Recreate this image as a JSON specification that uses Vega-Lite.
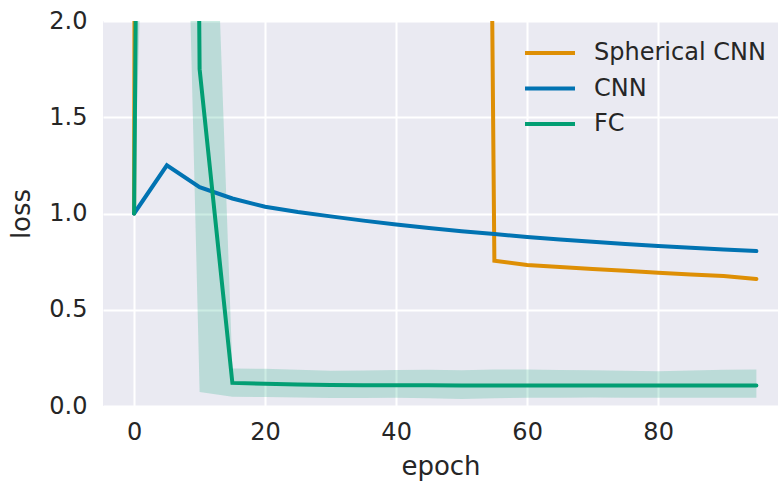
{
  "$schema": "https://vega.github.io/schema/vega-lite/v6.json",
  "width": 675,
  "height": 385,
  "autosize": {"type": "none"},
  "padding": {"left": 103, "top": 21, "right": 0, "bottom": 81},
  "background": "white",
  "config": {
    "view": {"fill": "#EAEAF2", "stroke": null},
    "axis": {
      "grid": true, "gridColor": "white", "gridWidth": 2,
      "domain": false, "ticks": false,
      "labelFont": "DejaVu Sans", "labelFontSize": 24, "labelColor": "#262626",
      "titleFont": "DejaVu Sans", "titleFontSize": 26, "titleFontWeight": "normal", "titleColor": "#262626"
    },
    "legend": {
      "labelFont": "DejaVu Sans", "labelFontSize": 24, "labelColor": "#262626", "labelLimit": 400
    }
  },
  "datasets": {
    "lines": [
      {"epoch": 0, "model": "Spherical CNN", "loss": 1.0},
      {"epoch": 5, "model": "Spherical CNN", "loss": 95},
      {"epoch": 10, "model": "Spherical CNN", "loss": 80},
      {"epoch": 15, "model": "Spherical CNN", "loss": 70},
      {"epoch": 20, "model": "Spherical CNN", "loss": 60},
      {"epoch": 25, "model": "Spherical CNN", "loss": 52},
      {"epoch": 30, "model": "Spherical CNN", "loss": 45},
      {"epoch": 35, "model": "Spherical CNN", "loss": 38},
      {"epoch": 40, "model": "Spherical CNN", "loss": 32},
      {"epoch": 45, "model": "Spherical CNN", "loss": 26},
      {"epoch": 50, "model": "Spherical CNN", "loss": 20},
      {"epoch": 55, "model": "Spherical CNN", "loss": 0.755},
      {"epoch": 60, "model": "Spherical CNN", "loss": 0.733},
      {"epoch": 65, "model": "Spherical CNN", "loss": 0.722},
      {"epoch": 70, "model": "Spherical CNN", "loss": 0.712},
      {"epoch": 75, "model": "Spherical CNN", "loss": 0.702},
      {"epoch": 80, "model": "Spherical CNN", "loss": 0.692},
      {"epoch": 85, "model": "Spherical CNN", "loss": 0.683},
      {"epoch": 90, "model": "Spherical CNN", "loss": 0.675},
      {"epoch": 95, "model": "Spherical CNN", "loss": 0.66},
      {"epoch": 0, "model": "CNN", "loss": 1.0},
      {"epoch": 5, "model": "CNN", "loss": 1.25},
      {"epoch": 10, "model": "CNN", "loss": 1.137},
      {"epoch": 15, "model": "CNN", "loss": 1.078},
      {"epoch": 20, "model": "CNN", "loss": 1.035},
      {"epoch": 25, "model": "CNN", "loss": 1.008},
      {"epoch": 30, "model": "CNN", "loss": 0.985},
      {"epoch": 35, "model": "CNN", "loss": 0.963},
      {"epoch": 40, "model": "CNN", "loss": 0.943},
      {"epoch": 45, "model": "CNN", "loss": 0.925},
      {"epoch": 50, "model": "CNN", "loss": 0.908},
      {"epoch": 55, "model": "CNN", "loss": 0.893},
      {"epoch": 60, "model": "CNN", "loss": 0.878},
      {"epoch": 65, "model": "CNN", "loss": 0.865},
      {"epoch": 70, "model": "CNN", "loss": 0.853},
      {"epoch": 75, "model": "CNN", "loss": 0.842},
      {"epoch": 80, "model": "CNN", "loss": 0.831},
      {"epoch": 85, "model": "CNN", "loss": 0.822},
      {"epoch": 90, "model": "CNN", "loss": 0.813},
      {"epoch": 95, "model": "CNN", "loss": 0.805},
      {"epoch": 0, "model": "FC", "loss": 1.0},
      {"epoch": 5, "model": "FC", "loss": 22},
      {"epoch": 10, "model": "FC", "loss": 1.75},
      {"epoch": 15, "model": "FC", "loss": 0.12},
      {"epoch": 20, "model": "FC", "loss": 0.115},
      {"epoch": 25, "model": "FC", "loss": 0.112},
      {"epoch": 30, "model": "FC", "loss": 0.109},
      {"epoch": 35, "model": "FC", "loss": 0.108},
      {"epoch": 40, "model": "FC", "loss": 0.108},
      {"epoch": 45, "model": "FC", "loss": 0.108},
      {"epoch": 50, "model": "FC", "loss": 0.107},
      {"epoch": 55, "model": "FC", "loss": 0.107},
      {"epoch": 60, "model": "FC", "loss": 0.107},
      {"epoch": 65, "model": "FC", "loss": 0.107},
      {"epoch": 70, "model": "FC", "loss": 0.107},
      {"epoch": 75, "model": "FC", "loss": 0.107},
      {"epoch": 80, "model": "FC", "loss": 0.107},
      {"epoch": 85, "model": "FC", "loss": 0.107},
      {"epoch": 90, "model": "FC", "loss": 0.107},
      {"epoch": 95, "model": "FC", "loss": 0.107}
    ],
    "band": [
      {"epoch": 0, "lower": 1.0, "upper": 1.0},
      {"epoch": 5, "lower": 7, "upper": 40},
      {"epoch": 10, "lower": 0.073, "upper": 5.0},
      {"epoch": 15, "lower": 0.048, "upper": 0.195},
      {"epoch": 20, "lower": 0.047, "upper": 0.193},
      {"epoch": 25, "lower": 0.044, "upper": 0.188},
      {"epoch": 30, "lower": 0.042, "upper": 0.183},
      {"epoch": 35, "lower": 0.042, "upper": 0.184},
      {"epoch": 40, "lower": 0.043, "upper": 0.187},
      {"epoch": 45, "lower": 0.04, "upper": 0.188},
      {"epoch": 50, "lower": 0.037, "upper": 0.186},
      {"epoch": 55, "lower": 0.04, "upper": 0.19},
      {"epoch": 60, "lower": 0.043, "upper": 0.19},
      {"epoch": 65, "lower": 0.043, "upper": 0.187},
      {"epoch": 70, "lower": 0.044, "upper": 0.186},
      {"epoch": 75, "lower": 0.043, "upper": 0.183},
      {"epoch": 80, "lower": 0.043, "upper": 0.181},
      {"epoch": 85, "lower": 0.043, "upper": 0.184},
      {"epoch": 90, "lower": 0.043, "upper": 0.188},
      {"epoch": 95, "lower": 0.043, "upper": 0.189}
    ]
  },
  "encoding": {
    "x": {
      "field": "epoch", "type": "quantitative",
      "scale": {"domain": [-4.75, 98.3], "nice": false, "zero": false},
      "axis": {"values": [0, 20, 40, 60, 80], "title": "epoch", "labelPadding": 14, "titlePadding": 9}
    }
  },
  "layer": [
    {
      "data": {"name": "band"},
      "mark": {"type": "area", "color": "#029e73", "opacity": 0.2, "clip": true},
      "encoding": {
        "y": {
          "field": "lower", "type": "quantitative",
          "scale": {"domain": [0, 2], "nice": false},
          "axis": {"values": [0, 0.5, 1, 1.5, 2], "format": ".1f", "title": "loss", "labelPadding": 16, "titlePadding": 14}
        },
        "y2": {"field": "upper"}
      }
    },
    {
      "data": {"name": "lines"},
      "transform": [{"filter": "datum.model === 'Spherical CNN'"}],
      "mark": {"type": "line", "strokeWidth": 4, "strokeCap": "round", "clip": true},
      "encoding": {
        "y": {"field": "loss", "type": "quantitative"},
        "color": {
          "field": "model", "type": "nominal",
          "scale": {"domain": ["Spherical CNN", "CNN", "FC"], "range": ["#de8f05", "#0173b2", "#029e73"]},
          "legend": {"title": null, "orient": "none", "legendX": 435, "legendY": 20, "symbolType": "M-2.5,0H2.5", "symbolSize": 400, "symbolStrokeWidth": 4, "labelOffset": 32, "rowPadding": 11.5, "padding": 0}
        }
      }
    },
    {
      "data": {"name": "lines"},
      "transform": [{"filter": "datum.model === 'CNN'"}],
      "mark": {"type": "line", "strokeWidth": 4, "strokeCap": "round", "clip": true},
      "encoding": {
        "y": {"field": "loss", "type": "quantitative"},
        "color": {"field": "model", "type": "nominal"}
      }
    },
    {
      "data": {"name": "lines"},
      "transform": [{"filter": "datum.model === 'FC'"}],
      "mark": {"type": "line", "strokeWidth": 4, "strokeCap": "round", "clip": true},
      "encoding": {
        "y": {"field": "loss", "type": "quantitative"},
        "color": {"field": "model", "type": "nominal"}
      }
    }
  ]
}
